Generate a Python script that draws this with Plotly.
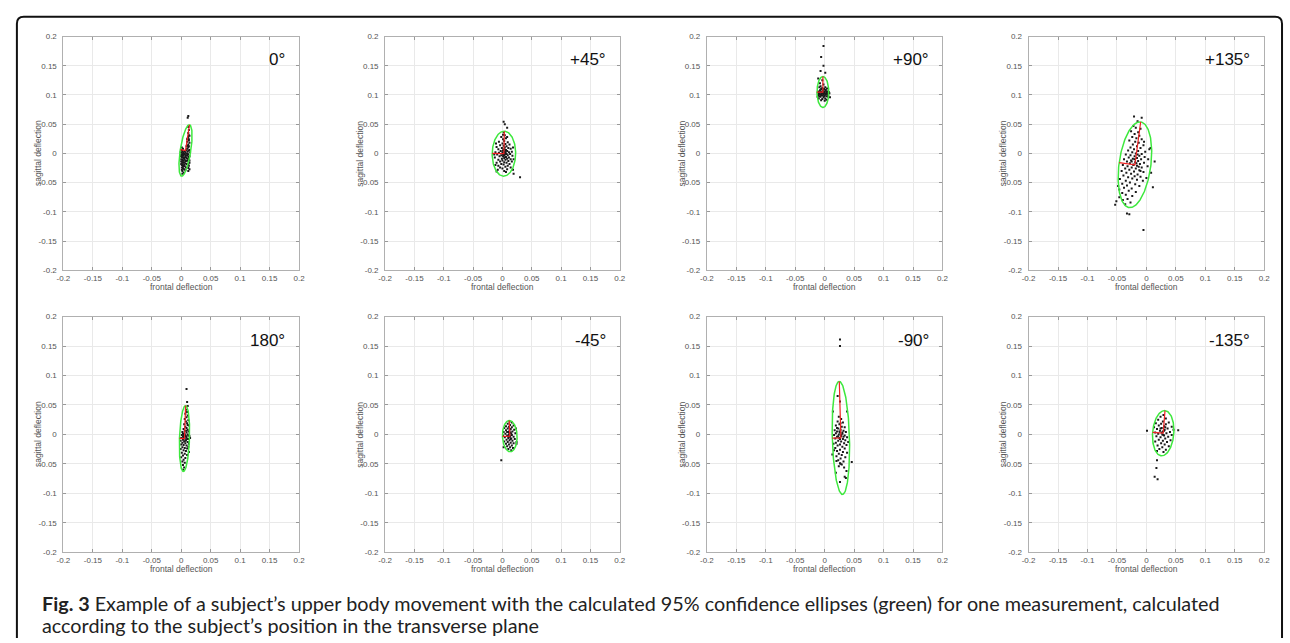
import numpy as np
import plotly.graph_objects as go

# ---------------- data ----------------
panel_labels = ["0°", "+45°", "+90°", "+135°", "180°", "-45°", "-90°", "-135°"]
tick_vals = [-0.2, -0.15, -0.1, -0.05, 0, 0.05, 0.1, 0.15, 0.2]
tick_text = ["-0.2", "-0.15", "-0.1", "-0.05", "0", "0.05", "0.1", "0.15", "0.2"]

p1 = [(0.012,0.064),(0.011,0.061),(0.013,0.040),(0.012,0.045),(0.012,0.035),(0.013,0.031),(0.014,0.030),(0.012,0.028),(0.011,0.026),(0.013,0.024),(0.010,0.024),(0.013,0.022),(0.010,0.020),(0.014,0.018),(0.012,0.015),(0.011,0.013),(0.013,0.012),(0.009,0.012),(0.012,0.010),(0.010,0.008),(0.014,0.006),(0.008,0.005),(0.011,0.003),(0.006,0.004),(0.003,0.008),(0.001,0.010),(0.000,0.006),(0.002,0.004),(0.004,0.002),(0.001,0.001),(0.003,0.000),(0.005,-0.001),(0.000,-0.002),(0.002,-0.003),(0.004,-0.004),(0.006,-0.002),(0.008,-0.003),(0.010,-0.004),(0.012,-0.002),(0.014,-0.005),(0.001,-0.006),(0.003,-0.007),(0.005,-0.008),(0.007,-0.006),(0.009,-0.008),(0.011,-0.009),(0.013,-0.010),(0.000,-0.010),(0.002,-0.011),(0.004,-0.012),(0.006,-0.011),(0.008,-0.013),(0.010,-0.012),(0.012,-0.014),(0.014,-0.016),(0.001,-0.014),(0.003,-0.016),(0.005,-0.015),(0.007,-0.017),(0.009,-0.018),(0.011,-0.020),(0.013,-0.021),(0.000,-0.018),(0.002,-0.020),(0.004,-0.021),(0.006,-0.022),(0.008,-0.024),(0.012,-0.025),(0.014,-0.027),(0.001,-0.024),(0.003,-0.026),(0.005,-0.027),(0.007,-0.029),(0.012,-0.030),(0.002,-0.030),(0.004,-0.033),(0.001,-0.028),(0.003,-0.001),(0.007,0.001),(0.009,0.000),(0.011,-0.001),(-0.001,0.002),(-0.001,-0.005),(0.015,0.002),(0.002,-0.035),(0.005,-0.019),(0.001,-0.004),(0.003,-0.012),(0.002,-0.016),(0.004,-0.008),(0.000,-0.014),(0.001,-0.020),(0.003,-0.023),(0.012,0.005),(0.013,-0.006),(0.012,-0.018),(0.014,-0.012)]

p2 = [(0.002,0.054),(0.004,0.050),(0.008,0.044),(0.030,-0.041),(0.019,-0.035),(0.002,0.036),(0.004,0.031),(-0.002,0.028),(0.006,0.026),(0.001,0.024),(0.003,0.021),(-0.006,0.020),(0.009,0.019),(0.000,0.017),(0.005,0.016),(0.012,0.015),(-0.004,0.014),(0.002,0.013),(0.007,0.012),(-0.010,0.011),(0.004,0.010),(0.010,0.009),(-0.001,0.009),(0.014,0.008),(-0.007,0.007),(0.003,0.007),(0.006,0.006),(0.001,0.005),(-0.003,0.004),(0.008,0.004),(0.016,0.003),(-0.012,0.002),(0.004,0.003),(0.011,0.002),(0.000,0.002),(-0.006,0.001),(0.006,0.000),(0.002,0.000),(0.013,-0.001),(-0.009,-0.002),(0.004,-0.002),(-0.002,-0.003),(0.009,-0.003),(0.017,-0.004),(0.001,-0.005),(-0.005,-0.005),(0.006,-0.006),(0.011,-0.007),(-0.013,-0.007),(0.003,-0.008),(-0.001,-0.009),(0.008,-0.009),(0.014,-0.010),(-0.007,-0.011),(0.005,-0.011),(0.000,-0.012),(0.010,-0.013),(-0.004,-0.014),(0.016,-0.014),(0.003,-0.015),(-0.010,-0.016),(0.007,-0.016),(0.012,-0.018),(-0.002,-0.018),(0.002,-0.019),(-0.007,-0.021),(0.009,-0.021),(0.005,-0.023),(-0.004,-0.024),(0.014,-0.024),(0.000,-0.026),(0.008,-0.027),(-0.008,-0.028),(0.003,-0.030),(-0.010,-0.031),(0.006,-0.032),(0.018,-0.028),(-0.012,-0.020),(-0.014,-0.002),(0.019,-0.010),(0.018,0.010),(-0.011,0.017),(0.008,0.028),(0.001,0.032),(0.005,0.002),(0.007,-0.001),(0.001,-0.002),(0.004,0.001),(0.003,-0.004),(0.002,0.006)]

p3 = [(-0.002,0.184),(-0.006,0.165),(-0.002,0.150),(-0.007,0.141),(0.001,0.138),(-0.011,0.128),(-0.008,0.120),(-0.002,0.118),(-0.004,0.125),(-0.012,0.104),(-0.010,0.106),(-0.009,0.102),(-0.008,0.108),(-0.007,0.104),(-0.006,0.100),(-0.005,0.106),(-0.004,0.103),(-0.003,0.108),(-0.002,0.101),(-0.001,0.105),(0.000,0.103),(0.001,0.107),(0.002,0.101),(0.003,0.104),(0.004,0.102),(0.005,0.106),(0.006,0.100),(0.008,0.103),(-0.011,0.100),(-0.009,0.098),(-0.006,0.110),(-0.004,0.112),(-0.001,0.110),(0.002,0.109),(-0.008,0.105),(-0.005,0.102),(-0.003,0.104),(0.000,0.099),(0.003,0.098),(-0.002,0.096),(-0.007,0.097),(0.006,0.097),(0.009,0.096),(-0.012,0.097),(-0.010,0.094),(-0.004,0.093),(0.001,0.094),(0.003,0.092),(-0.006,0.091),(0.000,0.090),(-0.009,0.113),(-0.007,0.115),(0.001,0.113),(0.004,0.111),(-0.005,0.104),(-0.002,0.103),(0.001,0.102),(-0.008,0.101),(-0.010,0.103),(0.003,0.106),(0.005,0.103),(-0.001,0.098),(-0.004,0.099),(0.007,0.105)]

p4 = [(-0.005,-0.131),(-0.033,-0.103),(-0.029,-0.104),(-0.053,-0.088),(-0.051,-0.082),(0.014,-0.014),(0.011,-0.058),(0.008,-0.033),(0.005,0.007),(0.007,0.009),(-0.021,0.063),(-0.008,0.061),(-0.015,0.055),(-0.022,0.047),(-0.018,0.044),(-0.010,0.042),(-0.026,0.038),(-0.014,0.036),(-0.020,0.033),(-0.012,0.030),(-0.024,0.028),(-0.017,0.026),(-0.008,0.024),(-0.029,0.022),(-0.019,0.020),(-0.013,0.018),(-0.023,0.015),(-0.005,0.014),(-0.016,0.012),(-0.027,0.010),(-0.010,0.009),(-0.021,0.007),(-0.031,0.005),(-0.014,0.004),(-0.002,0.003),(-0.024,0.002),(-0.018,0.000),(-0.008,-0.001),(-0.035,-0.002),(-0.027,-0.003),(-0.012,-0.004),(-0.020,-0.005),(-0.003,-0.006),(-0.030,-0.007),(-0.016,-0.008),(-0.023,-0.009),(-0.038,-0.010),(-0.009,-0.010),(-0.026,-0.012),(-0.014,-0.013),(-0.033,-0.014),(-0.019,-0.015),(-0.004,-0.016),(-0.028,-0.017),(-0.011,-0.018),(-0.022,-0.019),(-0.040,-0.020),(-0.016,-0.021),(-0.032,-0.022),(0.002,-0.022),(-0.025,-0.024),(-0.008,-0.024),(-0.036,-0.026),(-0.018,-0.026),(-0.029,-0.028),(-0.012,-0.029),(-0.042,-0.030),(-0.021,-0.031),(-0.005,-0.032),(-0.034,-0.033),(-0.026,-0.035),(-0.015,-0.036),(-0.039,-0.038),(-0.020,-0.039),(-0.010,-0.040),(-0.031,-0.041),(-0.024,-0.043),(-0.045,-0.044),(-0.016,-0.045),(-0.035,-0.047),(-0.006,-0.047),(-0.028,-0.050),(-0.041,-0.052),(-0.019,-0.053),(-0.033,-0.055),(-0.012,-0.056),(-0.038,-0.059),(-0.025,-0.060),(-0.046,-0.062),(-0.030,-0.064),(-0.018,-0.066),(-0.041,-0.068),(-0.035,-0.071),(-0.024,-0.073),(-0.046,-0.075),(-0.032,-0.078),(-0.040,-0.080),(-0.027,-0.084),(-0.036,-0.087),(-0.022,-0.020),(-0.017,-0.017),(-0.013,-0.023),(-0.025,-0.014),(-0.020,-0.010),(-0.010,-0.030),(-0.015,-0.002),(0.000,-0.042),(0.003,-0.010),(-0.004,0.020),(-0.048,-0.056)]

p5 = [(0.009,0.077),(0.010,0.055),(0.011,0.048),(0.008,0.042),(0.010,0.038),(0.007,0.035),(0.011,0.032),(0.009,0.029),(0.006,0.026),(0.012,0.024),(0.008,0.022),(0.010,0.019),(0.005,0.017),(0.013,0.015),(0.007,0.013),(0.009,0.011),(0.004,0.009),(0.011,0.008),(0.006,0.006),(0.013,0.005),(0.002,0.004),(0.009,0.003),(0.005,0.001),(0.011,0.000),(0.001,-0.001),(0.007,-0.002),(0.014,-0.003),(0.003,-0.004),(0.009,-0.005),(0.000,-0.006),(0.006,-0.007),(0.012,-0.008),(0.003,-0.009),(0.008,-0.010),(0.015,-0.006),(-0.001,-0.011),(0.005,-0.012),(0.011,-0.013),(0.002,-0.014),(0.007,-0.015),(0.013,-0.016),(0.000,-0.017),(0.004,-0.018),(0.009,-0.019),(0.012,-0.021),(0.002,-0.022),(0.006,-0.023),(0.010,-0.024),(-0.001,-0.025),(0.004,-0.027),(0.008,-0.028),(0.013,-0.030),(0.001,-0.031),(0.006,-0.033),(0.010,-0.035),(0.003,-0.036),(0.000,-0.039),(0.007,-0.040),(0.004,-0.043),(0.002,-0.046),(0.006,-0.048),(0.003,-0.052),(0.005,-0.056),(0.003,-0.060),(0.006,0.000),(0.008,-0.003),(0.004,-0.001),(0.010,-0.008),(0.005,-0.005),(0.007,-0.011),(0.009,0.006),(0.003,0.001),(0.012,-0.002),(0.011,0.016)]

p6 = [(-0.002,-0.044),(0.002,-0.022),(0.024,-0.016),(0.012,0.022),(0.016,0.020),(0.009,0.018),(0.013,0.016),(0.019,0.015),(0.006,0.014),(0.011,0.013),(0.016,0.012),(0.003,0.011),(0.009,0.010),(0.014,0.009),(0.020,0.008),(0.006,0.007),(0.012,0.006),(0.017,0.005),(0.002,0.004),(0.008,0.004),(0.014,0.003),(0.022,0.002),(0.005,0.001),(0.011,0.000),(0.016,-0.001),(0.001,-0.002),(0.008,-0.002),(0.013,-0.003),(0.019,-0.004),(0.004,-0.005),(0.010,-0.006),(0.015,-0.007),(0.021,-0.008),(0.007,-0.009),(0.012,-0.010),(0.017,-0.011),(0.003,-0.012),(0.009,-0.013),(0.014,-0.014),(0.019,-0.015),(0.006,-0.016),(0.011,-0.017),(0.016,-0.019),(0.008,-0.020),(0.013,-0.022),(0.018,-0.023),(0.010,-0.025),(0.015,-0.027),(0.024,-0.013),(0.023,0.010),(0.013,-0.004),(0.012,0.002),(0.015,0.001),(0.010,-0.003),(0.014,-0.008),(0.011,0.004)]

p7 = [(0.026,0.161),(0.026,0.150),(0.022,0.065),(0.026,0.056),(0.038,0.039),(0.014,0.039),(0.015,-0.016),(0.013,-0.034),(0.046,-0.047),(0.036,-0.074),(0.034,-0.072),(0.026,-0.081),(0.019,-0.065),(0.024,0.030),(0.028,0.026),(0.022,0.022),(0.031,0.020),(0.025,0.017),(0.019,0.015),(0.029,0.013),(0.034,0.012),(0.023,0.010),(0.027,0.008),(0.017,0.007),(0.032,0.006),(0.021,0.005),(0.036,0.004),(0.026,0.003),(0.019,0.002),(0.030,0.001),(0.024,0.000),(0.016,-0.001),(0.034,-0.002),(0.028,-0.003),(0.021,-0.004),(0.038,-0.005),(0.025,-0.006),(0.018,-0.007),(0.031,-0.008),(0.035,-0.010),(0.023,-0.011),(0.028,-0.012),(0.019,-0.014),(0.033,-0.015),(0.026,-0.017),(0.037,-0.018),(0.022,-0.019),(0.030,-0.021),(0.018,-0.023),(0.034,-0.024),(0.026,-0.026),(0.021,-0.028),(0.031,-0.030),(0.038,-0.031),(0.024,-0.033),(0.029,-0.035),(0.020,-0.037),(0.035,-0.039),(0.027,-0.041),(0.023,-0.044),(0.032,-0.046),(0.026,-0.049),(0.029,-0.051),(0.024,-0.054),(0.033,-0.056),(0.027,-0.050),(0.037,-0.062),(0.020,-0.045),(0.025,0.005),(0.028,-0.001),(0.023,-0.003),(0.030,0.003),(0.026,-0.008),(0.032,-0.004),(0.021,0.011),(0.027,0.019),(0.040,-0.013),(0.016,-0.027)]

p8 = [(0.001,0.006),(0.054,0.007),(0.018,-0.044),(0.017,-0.057),(0.014,-0.072),(0.019,-0.076),(0.029,0.033),(0.024,0.030),(0.033,0.027),(0.020,0.025),(0.028,0.022),(0.038,0.020),(0.016,0.019),(0.025,0.018),(0.033,0.017),(0.021,0.015),(0.030,0.014),(0.043,0.013),(0.013,0.012),(0.026,0.011),(0.036,0.010),(0.018,0.009),(0.031,0.008),(0.046,0.008),(0.023,0.006),(0.028,0.005),(0.040,0.004),(0.015,0.003),(0.034,0.002),(0.020,0.001),(0.027,0.000),(0.043,-0.001),(0.030,-0.002),(0.017,-0.003),(0.037,-0.004),(0.024,-0.005),(0.032,-0.007),(0.021,-0.009),(0.041,-0.010),(0.028,-0.011),(0.015,-0.012),(0.035,-0.013),(0.025,-0.015),(0.031,-0.017),(0.019,-0.019),(0.038,-0.020),(0.027,-0.022),(0.022,-0.025),(0.033,-0.026),(0.018,-0.028),(0.029,-0.030),(0.026,0.003),(0.030,0.006),(0.029,-0.001),(0.024,0.010),(0.032,0.012)]

points = [p1, p2, p3, p4, p5, p6, p7, p8]

# 95% confidence ellipses: centre x, centre y, semi-major, semi-minor, tilt of major axis from vertical (deg)
ell_cx = [0.0073, 0.0025, -0.0030, -0.0195, 0.0055, 0.0125, 0.0275, 0.0285]
ell_cy = [0.0050, -0.0005, 0.1050, -0.0195, -0.0070, -0.0030, -0.0060, 0.0020]
ell_a = [0.0445, 0.0385, 0.0265, 0.0740, 0.0560, 0.0265, 0.0960, 0.0385]
ell_b = [0.0090, 0.0200, 0.0100, 0.0270, 0.0085, 0.0125, 0.0146, 0.0180]
ell_tilt = [8.7, 1.0, 0.0, 7.6, 2.0, -2.0, -1.6, 4.6]

caption_bold = "Fig. 3"
caption_line1 = " Example of a subject’s upper body movement with the calculated 95% confidence ellipses (green) for one measurement, calculated"
caption_line2 = "according to the subject’s position in the transverse plane"

# ---------------- layout geometry (pixels) ----------------
W, H = 1290, 643
col_px = [(57, 295), (382, 619), (707, 945), (1032, 1270)]
row_px = [(33, 270), (317, 556)]


def px_x(v):
    return v / W


def px_y(v):
    return 1 - v / H


fig = go.Figure()
annotations = []
layout_axes = {}

tfont = dict(family="Liberation Sans, Arial, sans-serif", size=8, color="#555555")

for i in range(8):
    r, c = divmod(i, 4)
    n = i + 1
    xa = "x" if n == 1 else f"x{n}"
    ya = "y" if n == 1 else f"y{n}"
    xs = [p[0] for p in points[i]]
    ys = [p[1] for p in points[i]]

    # ellipse curve
    t = np.linspace(0, 2 * np.pi, 200)
    phi = np.deg2rad(ell_tilt[i])
    vmaj = np.array([np.sin(phi), np.cos(phi)])
    vmin = np.array([-np.cos(phi), np.sin(phi)])
    ex = ell_cx[i] + ell_a[i] * np.cos(t) * vmaj[0] + ell_b[i] * np.sin(t) * vmin[0]
    ey = ell_cy[i] + ell_a[i] * np.cos(t) * vmaj[1] + ell_b[i] * np.sin(t) * vmin[1]

    fig.add_trace(go.Scatter(x=xs, y=ys, mode="markers", xaxis=xa, yaxis=ya,
                             marker=dict(size=2, color="#1a1a1a", symbol="square"),
                             showlegend=False, hoverinfo="skip"))
    fig.add_trace(go.Scatter(x=ex, y=ey, mode="lines", xaxis=xa, yaxis=ya,
                             line=dict(color="#3ee83e", width=1.5),
                             showlegend=False, hoverinfo="skip"))
    rx = [ell_cx[i] + ell_a[i] * vmaj[0], ell_cx[i], ell_cx[i] + ell_b[i] * vmin[0]]
    ry = [ell_cy[i] + ell_a[i] * vmaj[1], ell_cy[i], ell_cy[i] + ell_b[i] * vmin[1]]
    fig.add_trace(go.Scatter(x=rx, y=ry, mode="lines", xaxis=xa, yaxis=ya,
                             line=dict(color="#ee2222", width=1.2),
                             showlegend=False, hoverinfo="skip"))

    x0, x1 = col_px[c]
    y0, y1 = row_px[r]
    common = dict(range=[-0.2, 0.2], tickvals=tick_vals, ticktext=tick_text,
                  ticks="inside", ticklen=3, tickcolor="#999999", tickwidth=1,
                  showgrid=True, gridcolor="#e9e9e9", gridwidth=1,
                  showline=True, linecolor="#b0b0b0", linewidth=1, mirror="ticks",
                  zeroline=False, tickfont=tfont, fixedrange=True)
    layout_axes["xaxis" if n == 1 else f"xaxis{n}"] = dict(
        common, domain=[px_x(x0), px_x(x1)], anchor=ya)
    layout_axes["yaxis" if n == 1 else f"yaxis{n}"] = dict(
        common, domain=[px_y(y1), px_y(y0)], anchor=xa, ticklabelstandoff=4)

    # panel label
    annotations.append(dict(x=0.18, y=0.16, xref=xa, yref=ya, text=panel_labels[i],
                            showarrow=False, xanchor="right", yanchor="middle",
                            font=dict(family="Liberation Sans, Arial, sans-serif", size=17, color="#111111")))
    # axis titles
    annotations.append(dict(x=px_x((x0 + x1) / 2), y=px_y(y1 + 17), xref="paper", yref="paper",
                            text="frontal deflection", showarrow=False, xanchor="center", yanchor="middle",
                            font=dict(family="Liberation Sans, Arial, sans-serif", size=8.5, color="#555555")))
    annotations.append(dict(x=px_x(x0 - 25), y=px_y((y0 + y1) / 2), xref="paper", yref="paper",
                            text="sagittal deflection", showarrow=False, textangle=-90,
                            xanchor="center", yanchor="middle",
                            font=dict(family="Liberation Sans, Arial, sans-serif", size=8.5, color="#555555")))

# caption
cap_font = dict(family="Lato, Liberation Sans, Arial, sans-serif", size=19.8, color="#222222")
annotations.append(dict(x=px_x(33), y=px_y(608), xref="paper", yref="paper",
                        text=f"<b>{caption_bold}</b>{caption_line1}", showarrow=False,
                        xanchor="left", yanchor="middle", font=cap_font))
annotations.append(dict(x=px_x(33), y=px_y(630), xref="paper", yref="paper",
                        text=caption_line2, showarrow=False,
                        xanchor="left", yanchor="middle", font=cap_font))

# outer rounded frame (open at bottom)
L, T, R, B, rad = 10, 13, 1288, 643, 7
frame_path = (f"M {px_x(L)},{px_y(B)} L {px_x(L)},{px_y(T + rad)} "
              f"Q {px_x(L)},{px_y(T)} {px_x(L + rad)},{px_y(T)} "
              f"L {px_x(R - rad)},{px_y(T)} Q {px_x(R)},{px_y(T)} {px_x(R)},{px_y(T + rad)} "
              f"L {px_x(R)},{px_y(B)}")

fig.update_layout(
    width=W, height=H,
    margin=dict(l=0, r=0, t=0, b=0),
    paper_bgcolor="white", plot_bgcolor="white",
    showlegend=False,
    annotations=annotations,
    shapes=[dict(type="path", path=frame_path, xref="paper", yref="paper",
                 line=dict(color="#111111", width=2))],
    **layout_axes,
)

fig.write_html("out.html",
               config={"displayModeBar": False, "staticPlot": True},
               post_script="document.body.style.margin='0';document.body.style.overflow='hidden';")
